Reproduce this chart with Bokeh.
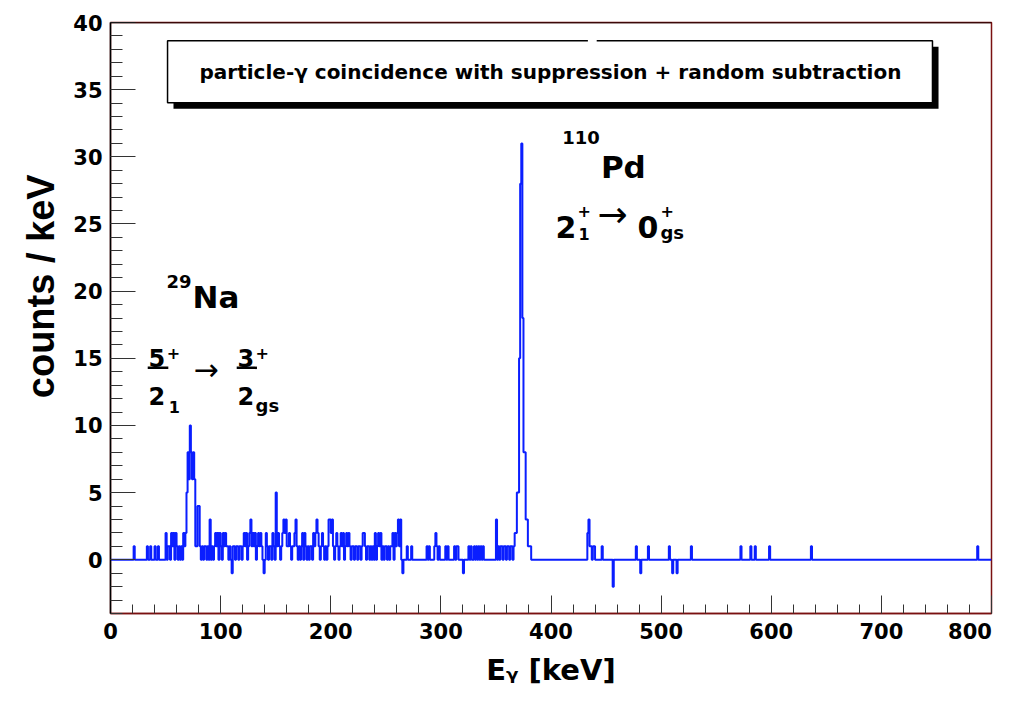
import numpy as np
from bokeh.plotting import figure
from bokeh.models import Label, BoxAnnotation, Span, SingleIntervalTicker, Range1d
from bokeh.embed import file_html
from bokeh.resources import INLINE

# ---- data: non-empty 1 keV bins of the spectrum (E_gamma in keV, counts/keV) ----
energies_keV = [
    21, 33, 36, 40, 43,
    50, 52, 53, 55, 56, 57, 59, 60, 62, 64, 66, 67, 68,
    69, 70, 71, 72, 73, 74, 75, 76, 77, 78, 79, 80, 81,
    83, 85, 86, 88, 90, 92, 94, 95, 96, 97, 99, 100, 102, 103, 104, 105, 106, 108,
    110, 111, 112, 114, 115, 117, 118,
    120, 121, 122, 123, 125, 126, 127, 128, 129, 130, 131, 133, 134, 135, 136, 137,
    139, 141, 142, 144, 145, 147, 148,
    150, 151, 152, 153, 155, 156, 157, 158, 159, 160, 161, 162, 163, 165, 166, 167,
    168, 169, 171, 173, 174, 176, 177, 179, 181, 182, 184, 185, 186, 187, 188, 189,
    191, 192, 193, 195, 197, 198, 199, 200, 201, 202, 204, 205, 206, 208, 209,
    210, 211, 213, 214, 215, 216, 217, 219, 220, 222, 223, 225, 226, 228, 229, 230,
    231, 233, 234, 236, 238, 240, 242, 243, 244, 245, 247, 249, 250, 252, 254, 255,
    256, 258, 259, 260, 261, 262, 263, 265, 269, 273,
    287, 289, 294, 295, 296, 298, 304, 306, 312, 314, 315, 320, 325, 327, 330, 332,
    334, 336, 338,
    350, 352, 354, 355, 357, 358, 360, 361, 363, 364, 366, 367, 368, 369, 370,
    371, 372, 373, 374, 375, 376, 377, 378, 379, 380, 381,
    433, 434, 435, 436, 438, 439, 446, 456, 477, 481, 488, 507, 510, 514, 527,
    572, 581, 585, 598, 636, 787,
]
counts = [
    1, 1, 1, 1, 1,
    2, 1, 1, 2, 1, 2, 2, 1, 1, 1, 2, 1, 2,
    5, 8, 6, 10, 8, 6, 8, 6, 1, 1, 4, 4, 1,
    1, 1, 1, 1, 3, 1, 1, 2, 1, 2, 2, 1, 2, 1, 2, 1, 1, 1,
    -1, 1, 1, 1, 1, 1, 1,
    1, 2, 1, 2, 1, 2, 3, 1, 2, 1, 2, 1, 2, 1, 2, 1,
    -1, 2, 1, 1, 1, 2, 1,
    5, 1, 2, 1, 1, 2, 3, 2, 3, 1, 1, 2, 1, 1, 1, 2,
    3, 1, 1, 1, 2, 2, 1, 1, 1, 1, 2, 1, 2, 3, 2, 1,
    1, 2, 1, 1, 1, 3, 3, 2, 3, 1, 1, 2, 1, 1, 2,
    1, 2, 1, 2, 1, 2, 1, 1, 1, 1, 1, 1, 1, 1, 2, 2,
    1, 1, 1, 1, 1, 2, 1, 2, 1, 2, 1, 1, 1, 1, 1, 1,
    2, 2, 1, 2, 3, 1, 3, -1, 1, 1,
    1, 1, 1, 2, 1, 1, 1, 1, 1, 1, 1, -1, 1, 1, 1, 1,
    1, 1, 1,
    3, 1, 1, 1, 1, 1, 1, 1, 1, 1, 1, 2, 2, 5, 5,
    15, 28, 31, 18, 8, 8, 3, 3, 1, 1, 1,
    2, 3, 1, 1, 1, 1, 1, -2, 1, -1, 1, 1, -1, -1, 1,
    1, 1, 1, 1, 1, 1,
]
x_range_keV = (0, 800)
y_range_counts = (-4, 40)
x_title = "E\u1d67 [keV]"
y_title = "counts / keV"
box_text = "particle-\u03b3 coincidence with suppression + random subtraction"

# ---- build histogram through bin edges ----
n_bins = x_range_keV[1] - x_range_keV[0]
hist = np.zeros(n_bins)
for e, c in zip(energies_keV, counts):
    hist[e] = c
edges = np.arange(x_range_keV[0], x_range_keV[1] + 1)
step_y = np.append(hist, hist[-1])

p = figure(width=1006, height=693, output_backend="svg", toolbar_location=None,
           x_range=Range1d(*x_range_keV), y_range=Range1d(*y_range_counts),
           min_border_left=110, min_border_right=15, min_border_top=22,
           min_border_bottom=80)
p.grid.visible = False
p.background_fill_color = "white"
p.border_fill_color = "white"
p.outline_line_color = "#7a1010"
p.outline_line_width = 1.5

p.step(edges, step_y, mode="after", line_color="#0a1eff", line_width=2)

# axes
BOLD = "DejaVu Sans"
p.xaxis.ticker = SingleIntervalTicker(interval=100, num_minor_ticks=5)
p.yaxis.ticker = SingleIntervalTicker(interval=5, num_minor_ticks=5)
for ax in (p.xaxis[0], p.yaxis[0]):
    ax.major_tick_out = 0
    ax.minor_tick_out = 0
    ax.major_label_text_font = BOLD
    ax.major_label_text_font_style = "bold"
    ax.major_label_text_font_size = "21px"
    ax.major_label_text_color = "black"
    ax.major_label_standoff = 8
    ax.major_tick_line_color = "#333333"
    ax.minor_tick_line_color = "#333333"
    ax.axis_label_text_color = "black"
    ax.axis_label_text_font_style = "bold"
p.xaxis.major_label_standoff = 6
p.xaxis.major_tick_in = 18
p.xaxis.minor_tick_in = 9
p.yaxis.major_tick_in = 25
p.yaxis.minor_tick_in = 12
p.xaxis.major_label_overrides = {800: "800\u2007"}
p.xaxis.axis_line_color = "#7a1010"
p.xaxis.axis_line_width = 1.5
p.yaxis.axis_line_color = "black"
p.yaxis.axis_line_width = 1.5

p.xaxis.axis_label = x_title
p.xaxis.axis_label_text_font = BOLD
p.xaxis.axis_label_text_font_size = "29px"
p.xaxis.axis_label_standoff = 6

p.yaxis.axis_label = "\u2007\u2007\u2007" + y_title
p.yaxis.axis_label_text_font = "Liberation Sans"
p.yaxis.axis_label_text_font_size = "38px"
p.yaxis.axis_label_standoff = 8
p.add_layout(Span(location=40, dimension="width", line_color="black", line_width=1.5))

def lab(x, y, text, size, bold=True, align="left", baseline="alphabetic", font=BOLD):
    p.add_layout(Label(x=x, y=y, text=text, text_font=font,
                       text_font_style="bold" if bold else "normal",
                       text_font_size=size, text_align=align, text_baseline=baseline,
                       text_color="black"))

# title box with shadow
p.add_layout(BoxAnnotation(left=57.2, right=751.9, bottom=33.57, top=38.2,
                           fill_color="black", fill_alpha=1.0, line_color=None))
p.add_layout(BoxAnnotation(left=51.8, right=746.4, bottom=34.03, top=38.64,
                           fill_color="white", fill_alpha=1.0,
                           line_color="black", line_width=1.5, line_alpha=1.0))
p.add_layout(BoxAnnotation(left=433.5, right=441.5, bottom=38.5, top=38.8,
                           fill_color="white", fill_alpha=1.0, line_color=None))
lab(399.5, 36.35, box_text, "20px", align="center", baseline="middle")

# 29Na annotation
lab(73.5, 20.72, "29", "18px", align="right")
lab(74.5, 19.53, "Na", "31px")
lab(34.5, 14.99, "5", "24px")
lab(51.0, 15.43, "+", "16px")
lab(34.5, 12.16, "2", "24px")
lab(53.0, 11.34, "1", "16px")
lab(75.4, 14.2, "\u2192", "30px", bold=False, baseline="middle")
lab(115.3, 14.99, "3", "24px")
lab(131.7, 15.43, "+", "16px")
lab(115.3, 12.16, "2", "24px")
lab(131.7, 11.50, "gs", "18px")
p.segment(x0=[33.8, 114.6], y0=[14.29, 14.29], x1=[52.5, 133.0], y1=[14.29, 14.29],
          line_color="black", line_width=2.5)

# 110Pd annotation
lab(444.4, 31.45, "110", "18px", align="right")
lab(445.3, 29.21, "Pd", "31px")
lab(404.1, 24.74, "2", "30px")
lab(424.1, 25.93, "+", "16px")
lab(425.0, 24.22, "1", "16px")
lab(442.2, 25.71, "\u2192", "36px", bold=False, baseline="middle")
lab(478.5, 24.74, "0", "30px")
lab(499.4, 25.93, "+", "16px")
lab(499.4, 24.37, "gs", "18px")

open("out.html", "w").write(file_html(p, INLINE))
